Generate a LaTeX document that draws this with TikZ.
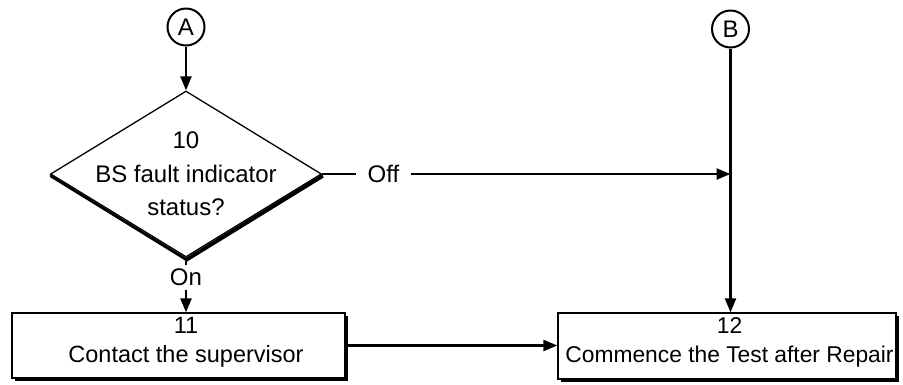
\documentclass[tikz,border=0pt]{standalone}
\usepackage{fontspec}
\setmainfont{Liberation Sans}
\usetikzlibrary{shapes.geometric,arrows.meta,shadows}
\begin{document}
\begin{tikzpicture}[x=1pt,y=-1pt,
  font=\fontsize{24}{29}\selectfont,
  conn/.style={line width=2.4pt,-{Triangle[length=14pt,width=11pt]}},
  offpage/.style={circle,draw,line width=2pt,minimum size=37pt,inner sep=0pt},
  procbox/.style={draw,line width=1.3pt,fill=white,inner sep=0pt,
    drop shadow={shadow xshift=3pt,shadow yshift=-3pt,opacity=1,fill=black}},
  decision/.style={diamond,draw,line width=1.3pt,fill=white,inner sep=0pt,
    minimum width=271pt,minimum height=166pt},
  boxtext/.style={align=center,inner sep=0pt},
  edgelabel/.style={fill=white,inner xsep=12pt,inner ysep=4pt}]
  \useasboundingbox (0,0) rectangle (903,384);

  % off-page connectors
  \node[offpage] (A) at (186,27) {A};
  \node[offpage] (B) at (730.5,29) {B};

  % decision 10 and the shadow band along its two lower sides
  \node[decision] (d) at (186,174) {};
  \fill (d.west) -- (d.south) -- (d.east)
    -- ([shift={(1.5,3.5)}]d.east) -- ([shift={(1,4)}]d.south)
    -- ([shift={(0,3)}]d.west) -- cycle;
  \node[align=center,inner sep=0pt,font=\fontsize{24}{33.5}\selectfont] (dtext) at (d.center)
    {10\\BS fault indicator\\status?};

  % process boxes
  \node[procbox,minimum width=333pt,minimum height=65pt] (b11) at (178.5,345.5) {};
  \node[boxtext,font=\fontsize{23.5}{29}\selectfont] (t11) at (186,342) {11\\Contact the supervisor};
  \node[procbox,minimum width=338pt,minimum height=66pt] (b12) at (727,346) {};
  \node[boxtext,font=\fontsize{22.8}{29}\selectfont] (t12) at (729.5,342.5) {12\\Commence the Test after Repair};

  % connectors
  \coordinate (bj) at (B.south |- d.east);
  \draw[conn] (A) -- (d.north);
  \draw[conn] (d.east) -- node[edgelabel,pos=0.15] (off) {Off} (bj);
  \draw[conn] (B) -- (B.south |- b12.north);
  \draw[conn] (d.south) -- node[edgelabel,pos=0.36,inner xsep=2pt] (on) {On} (d.south |- b11.north);
  \draw[conn] (b11.east) -- (b11.east -| b12.west);
\end{tikzpicture}
\end{document}
